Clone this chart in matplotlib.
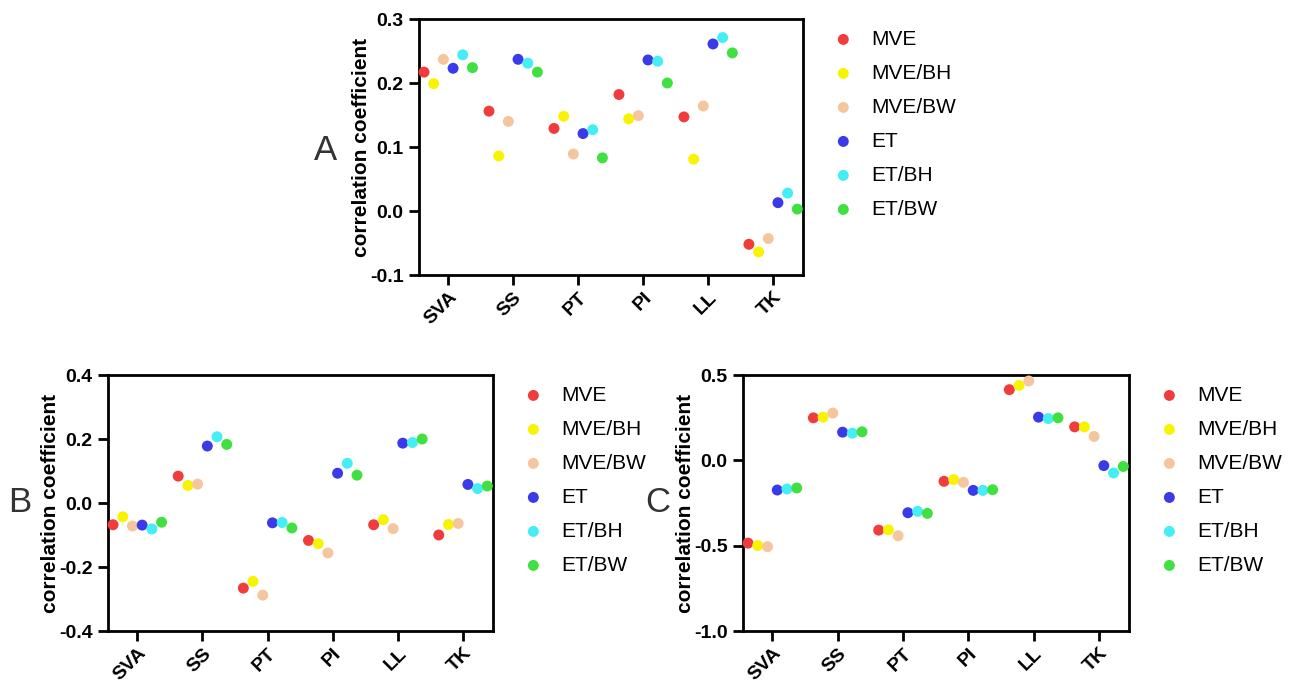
import numpy as np
import matplotlib
matplotlib.use('Agg')
import matplotlib.pyplot as plt

plt.rcParams['font.family'] = ['Liberation Sans', 'DejaVu Sans']

categorias = ['SVA', 'SS', 'PT', 'PI', 'LL', 'TK']
series = ['MVE', 'MVE/BH', 'MVE/BW', 'ET', 'ET/BH', 'ET/BW']
colores = ['#f03c3c', '#f8f400', '#f5c69e', '#3a3ae8', '#44eef4', '#40e040']

# filas = series, columnas = categorias
valores_A = [
    [0.217, 0.156, 0.129, 0.182, 0.147, -0.052],
    [0.199, 0.086, 0.148, 0.144, 0.081, -0.064],
    [0.237, 0.140, 0.089, 0.149, 0.164, -0.043],
    [0.223, 0.237, 0.121, 0.236, 0.261, 0.013],
    [0.244, 0.231, 0.127, 0.234, 0.271, 0.028],
    [0.224, 0.217, 0.083, 0.200, 0.247, 0.003],
]
valores_B = [
    [-0.068, 0.084, -0.266, -0.117, -0.068, -0.100],
    [-0.043, 0.055, -0.245, -0.127, -0.052, -0.067],
    [-0.072, 0.059, -0.288, -0.156, -0.080, -0.064],
    [-0.069, 0.178, -0.062, 0.093, 0.187, 0.058],
    [-0.081, 0.207, -0.061, 0.124, 0.189, 0.045],
    [-0.060, 0.183, -0.078, 0.087, 0.200, 0.053],
]
valores_C = [
    [-0.485, 0.249, -0.409, -0.123, 0.414, 0.196],
    [-0.499, 0.253, -0.407, -0.113, 0.439, 0.196],
    [-0.506, 0.277, -0.442, -0.129, 0.465, 0.140],
    [-0.174, 0.165, -0.307, -0.176, 0.253, -0.031],
    [-0.168, 0.159, -0.299, -0.176, 0.245, -0.074],
    [-0.162, 0.167, -0.311, -0.172, 0.249, -0.036],
]

ticks_A = [-0.1, 0.0, 0.1, 0.2, 0.3]
ticks_B = [-0.4, -0.2, 0.0, 0.2, 0.4]
ticks_C = [-1.0, -0.5, 0.0, 0.5]


def panel(fig, rect, valores, yticks, letra, letra_pos):
    ax = fig.add_axes(rect)
    x = np.arange(len(categorias))
    paso = 0.149
    for i, (nombre, col) in enumerate(zip(series, colores)):
        off = (i - 2.5) * paso
        ax.scatter(x + off, valores[i], s=62, color=col, label=nombre,
                   edgecolors='none', zorder=3, clip_on=False)
    ax.set_xlim(-0.45, len(categorias) - 1 + 0.46)
    ax.set_ylim(yticks[0], yticks[-1])
    ax.set_yticks(yticks)
    ax.set_yticklabels(['%.1f' % t for t in yticks], fontsize=14, fontweight='bold')
    ax.set_xticks(x)
    ax.set_xticklabels(categorias, fontsize=14, fontweight='bold', rotation=45,
                       ha='right', va='top', rotation_mode='anchor')
    for s in ax.spines.values():
        s.set_linewidth(2)
    ax.tick_params(direction='out', length=7, width=2, pad=4)
    ax.tick_params(axis='x', pad=3)
    ax.set_ylabel('correlation coefficient', fontsize=15, fontweight='bold', labelpad=-1)
    # la leyenda va a la derecha del eje
    ax.legend(loc='upper left', bbox_to_anchor=(1.029, 0.99), bbox_transform=ax.transAxes,
              frameon=False, fontsize=15, markerscale=1.0, handletextpad=0.35,
              labelspacing=0.72, borderaxespad=0)
    fig.text(letra_pos[0], letra_pos[1], letra, fontsize=25, ha='center', va='center',
             color='#333333')
    return ax


fig = plt.figure(figsize=(12.93, 6.82), dpi=100)
W, H = 1293.0, 682.0
panel(fig, [419 / W, 1 - 275 / H, 384 / W, 256 / H], valores_A, ticks_A, 'A', (325 / W, 1 - 150 / H))
panel(fig, [108 / W, 1 - 631 / H, 385 / W, 256 / H], valores_B, ticks_B, 'B', (20 / W, 1 - 503 / H))
panel(fig, [743 / W, 1 - 631 / H, 386 / W, 256 / H], valores_C, ticks_C, 'C', (658 / W, 1 - 503 / H))

fig.savefig('out.png', dpi=100)
